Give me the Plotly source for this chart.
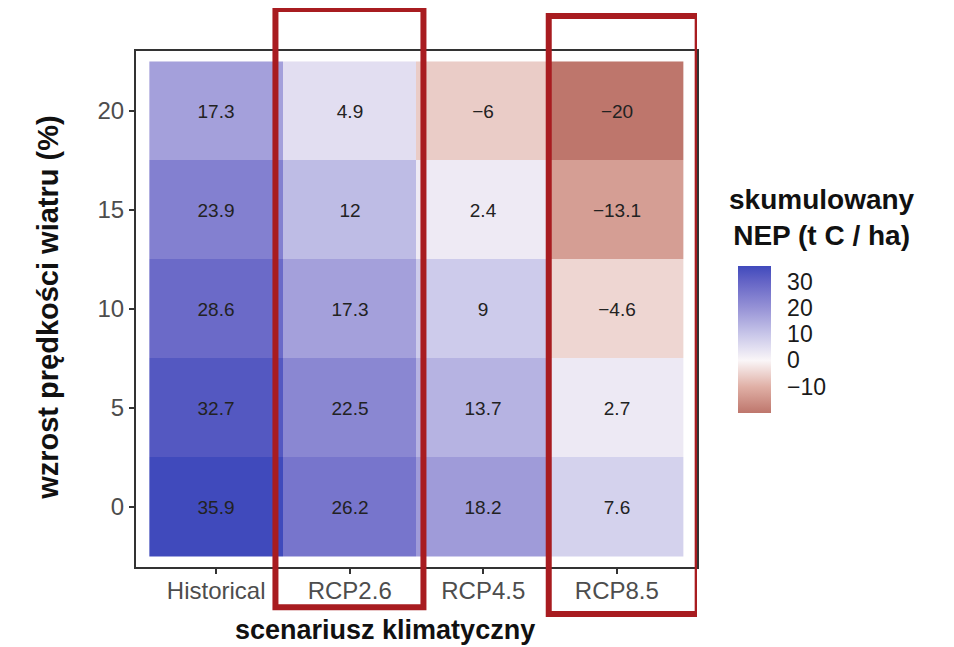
import plotly.graph_objects as go

# ---- data ----
scenarios = ["Historical", "RCP2.6", "RCP4.5", "RCP8.5"]
wind_increase = [0, 5, 10, 15, 20]
nep_historical = [35.9, 32.7, 28.6, 23.9, 17.3]
nep_rcp26 = [26.2, 22.5, 17.3, 12, 4.9]
nep_rcp45 = [18.2, 13.7, 9, 2.4, -6]
nep_rcp85 = [7.6, 2.7, -4.6, -13.1, -20]
colorbar_ticks = [30, 20, 10, 0, -10]
highlighted = ["RCP2.6", "RCP8.5"]

cols = [nep_historical, nep_rcp26, nep_rcp45, nep_rcp85]
z = [[cols[c][r] for c in range(len(scenarios))] for r in range(len(wind_increase))]


def fmt(v):
    s = ("%g" % v)
    return s.replace("-", "\u2212")


text = [[fmt(v) for v in row] for row in z]

zmin = min(min(r) for r in z)
zmax = max(max(r) for r in z)

# colour stops (value -> colour), white at 0
stops = [
    (-20, "rgb(190,118,108)"),
    (-10, "rgb(224,176,166)"),
    (0, "rgb(250,246,248)"),
    (10, "rgb(200,198,233)"),
    (20, "rgb(150,146,214)"),
    (30, "rgb(100,100,198)"),
    (35.9, "rgb(64,74,188)"),
]
colorscale = [[(v - zmin) / (zmax - zmin), c] for v, c in stops]

FONT = "Liberation Sans, Arial, sans-serif"

fig = go.Figure()
fig.add_trace(go.Heatmap(
    z=z, x=scenarios, y=wind_increase,
    text=text, texttemplate="%{text}",
    textfont=dict(family=FONT, size=19, color="#222222"),
    colorscale=colorscale, zmin=zmin, zmax=zmax,
    xgap=0, ygap=0,
    colorbar=dict(
        x=1.073, xanchor="left", xref="paper", xpad=0, ypad=0,
        y=0.441, yanchor="middle", len=0.285, lenmode="fraction",
        thickness=33, outlinewidth=0,
        tickvals=colorbar_ticks,
        ticks="outside", ticklen=12, tickcolor="rgba(0,0,0,0)",
        tickfont=dict(family=FONT, size=23, color="#1a1a1a"),
    ),
))

fig.update_xaxes(
    type="category", range=[-0.6, 3.6],
    showline=True, mirror=True, linecolor="#333333", linewidth=2,
    ticks="outside", ticklen=5, tickwidth=1.5, tickcolor="#333333",
    ticklabelstandoff=-4,
    tickfont=dict(family=FONT, size=24, color="#4d4d4d"),
    showgrid=False, zeroline=False,
)
fig.update_yaxes(
    range=[-3.03, 23.03], tickvals=wind_increase,
    showline=True, mirror=True, linecolor="#333333", linewidth=2,
    ticks="outside", ticklen=5, tickwidth=1.5, tickcolor="#333333",
    tickfont=dict(family=FONT, size=24, color="#4d4d4d"),
    showgrid=False, zeroline=False,
)

# highlight boxes around selected scenario columns
box_y = {"RCP2.6": (-0.078, 1.0814), "RCP8.5": (-0.0911, 1.0678)}
box_x = {"RCP2.6": (-0.556, 0.552), "RCP8.5": (-0.51, 0.605)}
for name in highlighted:
    i = scenarios.index(name)
    y0, y1 = box_y[name]
    dx0, dx1 = box_x[name]
    fig.add_shape(type="rect", xref="x", yref="paper",
                  x0=i + dx0, x1=i + dx1, y0=y0, y1=y1,
                  line=dict(color="#a81c20", width=6), layer="above")

fig.add_annotation(text="<b>wzrost prędkości wiatru (%)</b>", textangle=-90,
                   xref="paper", yref="paper", x=-0.157, y=0.504,
                   xanchor="center", yanchor="middle",
                   showarrow=False, font=dict(family=FONT, size=29, color="#111111"))
fig.add_annotation(text="<b>scenariusz klimatyczny</b>",
                   xref="paper", yref="paper", x=0.444, y=-0.122,
                   xanchor="center", yanchor="middle",
                   showarrow=False, font=dict(family=FONT, size=27, color="#111111"))
fig.add_annotation(text="<b>skumulowany<br>NEP (t C / ha)</b>", align="center",
                   xref="paper", yref="paper", x=1.2228, y=0.678,
                   xanchor="center", yanchor="middle",
                   showarrow=False, font=dict(family=FONT, size=28, color="#111111"))

fig.update_layout(
    width=946, height=639,
    margin=dict(l=128, r=257, t=43, b=80),
    paper_bgcolor="white", plot_bgcolor="white",
    font=dict(family=FONT),
)

fig.write_html("out.html")
